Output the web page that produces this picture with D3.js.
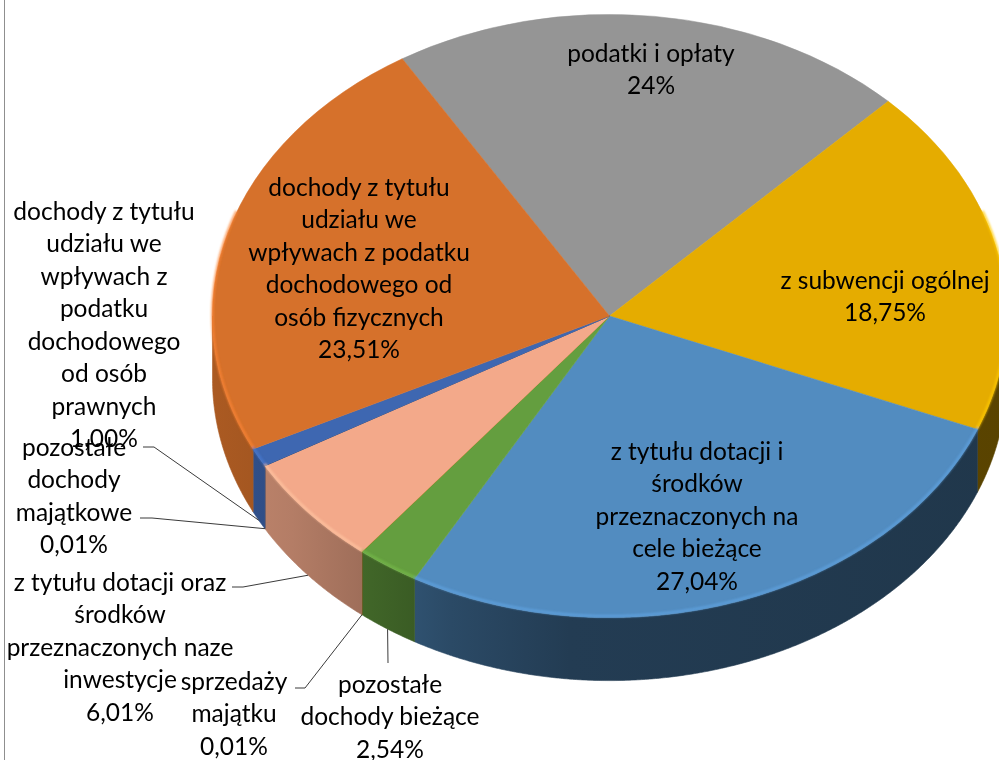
<!DOCTYPE html>
<html><head><meta charset="utf-8">
<script src="https://cdn.jsdelivr.net/npm/d3@7"></script>
<style>html,body{margin:0;padding:0;background:#fff;overflow:hidden} svg{display:block}</style>
</head><body>
<svg id="chart" width="999" height="760"></svg>
<script>
// ---------- data ----------
const categories = [
  "podatki i opłaty",
  "z subwencji ogólnej",
  "z tytułu dotacji i środków przeznaczonych na cele bieżące",
  "pozostałe dochody bieżące",
  "sprzedaży majątku",
  "z tytułu dotacji oraz środków przeznaczonych naze inwestycje",
  "pozostałe dochody majątkowe",
  "dochody z tytułu udziału we wpływach z podatku dochodowego od osób prawnych",
  "dochody z tytułu udziału we wpływach z podatku dochodowego od osób fizycznych"
];
// slice sizes as drawn in the picture (the grey slice is drawn ~21%, though labelled 24%)
const values = [21.13, 18.75, 27.04, 2.54, 0.01, 6.01, 0.01, 1.00, 23.51];
const percentLabels = ["24%", "18,75%", "27,04%", "2,54%", "0,01%", "6,01%", "0,01%", "1,00%", "23,51%"];
const labelLines = [
  ["podatki i opłaty"],
  ["z subwencji ogólnej"],
  ["z tytułu dotacji i", "środków", "przeznaczonych na", "cele bieżące"],
  ["pozostałe", "dochody bieżące"],
  ["sprzedaży", "majątku"],
  ["z tytułu dotacji oraz", "środków", "przeznaczonych naze", "inwestycje"],
  ["pozostałe", "dochody", "majątkowe"],
  ["dochody z tytułu", "udziału we", "wpływach z", "podatku", "dochodowego", "od osób", "prawnych"],
  ["dochody z tytułu", "udziału we", "wpływach z podatku", "dochodowego od", "osób fizycznych"]
];

// ---------- styles / layout ----------
const colors = ["#959595", "#e5ac00", "#528cc0", "#649e3f", "#997300", "#f3a98a", "#264478", "#3e67b1", "#d6712b"];
const labelPos = [[651, 52], [885, 279], [697, 450], [390, 683], [234, 680], [120, 581], [74, 446], [104, 210], [359, 186]];
const leaderStart = {7: [[143, 447], [154, 447]], 6: [[140, 518], [152, 518]], 5: [[232, 587], [243, 587]], 4: [[295, 688], [305, 688]], 3: [[388, 663]]};
const W = 999, H = 760;
const cx = 609.5, cy = 316, rx = 397, ry = 301.6, depth = 63;
const startDeg = -31.5;
const lineH = 32.5;
const fontFamily = "Lato, 'Open Sans', sans-serif";
const fontSize = 24.5;

const svg = d3.select("#chart");
const defs = svg.append("defs");
defs.append("filter").attr("id", "soft").append("feGaussianBlur").attr("stdDeviation", 0.9);

// left border line
svg.append("line").attr("x1", 4.5).attr("x2", 4.5).attr("y1", 0).attr("y2", H)
  .attr("stroke", "#8f8f8f").attr("stroke-width", 1);

const a0 = startDeg * Math.PI / 180;
const pie = d3.pie().sort(null).value(d => d).startAngle(a0).endAngle(a0 + 2 * Math.PI);
const arcs = pie(values);

const xs = d3.scaleLinear().domain([-1, 1]).range([cx - rx, cx + rx]);
const ys = d3.scaleLinear().domain([-1, 1]).range([cy + ry, cy - ry]);
const proj = (a, z = 0) => [xs(Math.sin(a)), ys(Math.cos(a)) + z];
function arcPts(s, e, z) {
  const n = Math.max(2, Math.ceil(Math.abs(e - s) / 0.005));
  return d3.range(n + 1).map(i => proj(s + (e - s) * i / n, z));
}
const line = d3.line();

// wall gradients (lit from the left)
const shade = [[0, 0.80], [0.1, 0.74], [0.2, 0.64], [0.3, 0.53], [0.45, 0.43], [1, 0.39]];
arcs.forEach((d, i) => {
  const c = d3.rgb(colors[i]);
  const g = defs.append("linearGradient").attr("id", "wall" + i)
    .attr("gradientUnits", "userSpaceOnUse")
    .attr("x1", cx - rx).attr("x2", cx + rx).attr("y1", 0).attr("y2", 0);
  shade.forEach(([o, f]) => {
    g.append("stop").attr("offset", o)
      .attr("stop-color", d3.rgb(c.r * f, c.g * f, c.b * f).formatHex());
  });
});

// side walls (front half only)
const wallG = svg.append("g");
arcs.forEach((d, i) => {
  const s = Math.max(d.startAngle, Math.PI / 2), e = Math.min(d.endAngle, 3 * Math.PI / 2);
  if (e <= s) return;
  const pts = arcPts(s, e, 0).concat(arcPts(e, s, depth));
  wallG.append("path").attr("d", line(pts) + "Z")
    .attr("fill", `url(#wall${i})`).attr("stroke", `url(#wall${i})`).attr("stroke-width", 0.6);
});

// top faces
const arcGen = d3.arc().innerRadius(0).outerRadius(1);
const topG = svg.append("g").attr("transform", `translate(${cx},${cy}) scale(${rx},${ry})`);
topG.selectAll("path").data(arcs).join("path")
  .attr("d", arcGen)
  .attr("fill", (d, i) => colors[i])
  .attr("stroke", (d, i) => colors[i])
  .attr("stroke-width", 0.6 / rx);

// bevel highlight along the front rim
const rimG = svg.append("g").attr("filter", "url(#soft)");
arcs.forEach((d, i) => {
  const s = Math.max(d.startAngle, Math.PI / 2 - 0.35), e = Math.min(d.endAngle, 3 * Math.PI / 2 + 0.35);
  if (e <= s) return;
  rimG.append("path").attr("d", line(arcPts(s, e, -1.5)))
    .attr("fill", "none").attr("stroke", d3.color(colors[i]).brighter(0.45))
    .attr("stroke-width", 2.5).attr("opacity", 0.8);
});

// leader lines
const leadG = svg.append("g");
Object.keys(leaderStart).forEach(k => {
  const i = +k, d = arcs[i];
  const end = proj((d.startAngle + d.endAngle) / 2, depth);
  leadG.append("path").attr("d", line(leaderStart[k].concat([end])))
    .attr("fill", "none").attr("stroke", "#3a3a3a").attr("stroke-width", 1);
});

// labels
const labG = svg.append("g").attr("font-family", fontFamily).attr("font-size", fontSize)
  .attr("fill", "#000").attr("text-anchor", "middle");
labelLines.forEach((lines, i) => {
  const all = lines.concat([percentLabels[i]]);
  const t = labG.append("text");
  all.forEach((ln, j) => {
    t.append("tspan").attr("x", labelPos[i][0]).attr("y", labelPos[i][1] + j * lineH)
      .attr("dominant-baseline", "central").text(ln);
  });
});
</script>
</body></html>
